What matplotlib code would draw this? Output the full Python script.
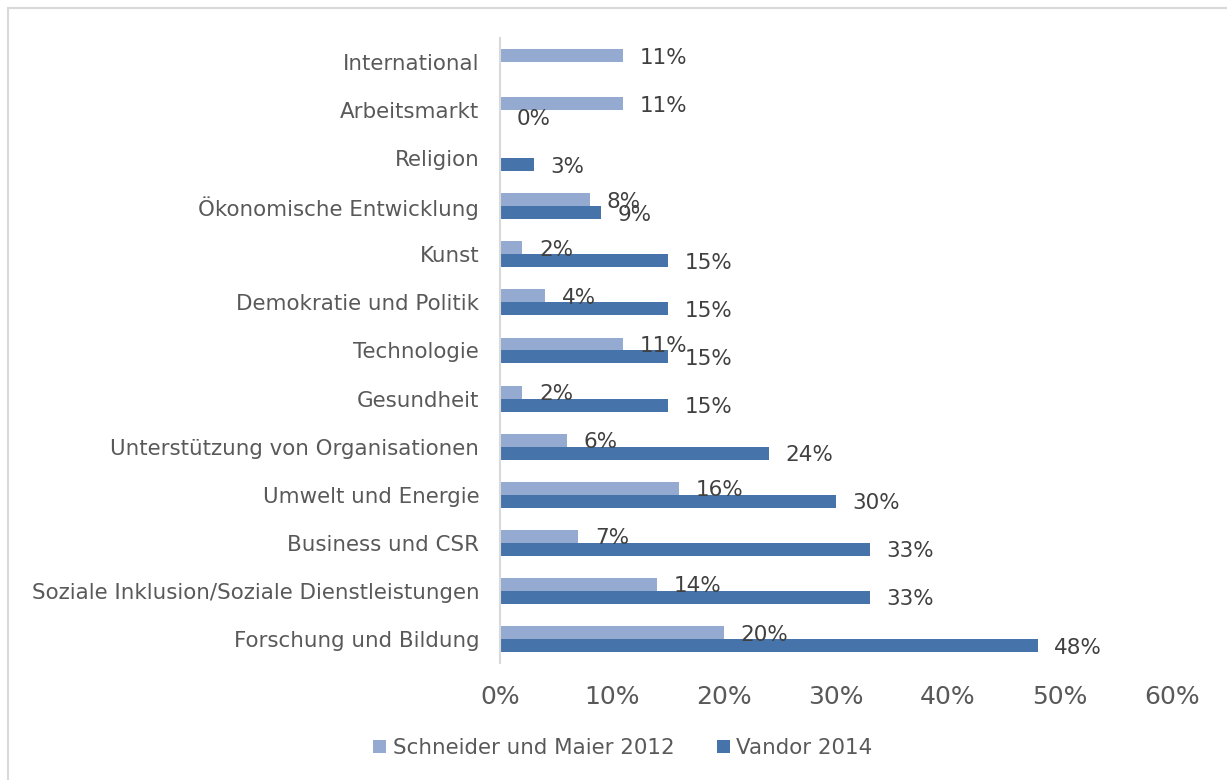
import numpy as np
import matplotlib.pyplot as plt
from matplotlib.patches import Rectangle

# categories from bottom to top
categories = ['Forschung und Bildung',
              'Soziale Inklusion/Soziale Dienstleistungen',
              'Business und CSR',
              'Umwelt und Energie',
              'Unterstützung von Organisationen',
              'Gesundheit',
              'Technologie',
              'Demokratie und Politik',
              'Kunst',
              'Ökonomische Entwicklung',
              'Religion',
              'Arbeitsmarkt',
              'International']
schneider = [20, 14, 7, 16, 6, 2, 11, 4, 2, 8, np.nan, 11, 11]
vandor = [48, 33, 33, 30, 24, 15, 15, 15, 15, 9, 3, 0, np.nan]
series_names = ['Schneider und Maier 2012', 'Vandor 2014']
xticks = [0, 10, 20, 30, 40, 50, 60]

col_light = '#95AAD0'
col_dark = '#4674AA'
txt_gray = '#595959'
lbl_gray = '#404040'

fig = plt.figure(figsize=(12.27, 7.8), dpi=100)
ax = fig.add_axes([500/1227, 1-663/780, 672/1227, 625/780])

y = np.arange(len(categories))
h = 0.27
b1 = ax.barh(y + h/2, schneider, height=h, color=col_light, label=series_names[0])
b2 = ax.barh(y - h/2, vandor, height=h, color=col_dark, label=series_names[1])

for bars, vals in [(b1, schneider), (b2, vandor)]:
    for rect, v in zip(bars, vals):
        if np.isnan(v):
            continue
        ax.annotate(f'{v:.0f}%', (v, rect.get_y() + rect.get_height()/2),
                    xytext=(12, -1.5), textcoords='offset points',
                    ha='left', va='center', fontsize=15.5, color=lbl_gray)

ax.set_xlim(0, 60)
ax.set_ylim(-0.5, len(categories) - 0.5)
ax.set_xticks(xticks)
ax.set_xticklabels([f'{t}%' for t in xticks])
ax.set_yticks(y)
ax.set_yticklabels(categories)
ax.tick_params(axis='x', length=0, pad=16, labelsize=18, labelcolor=txt_gray)
ax.tick_params(axis='y', length=0, pad=15, labelsize=15.4, labelcolor=txt_gray)
for s in ['top', 'right', 'bottom']:
    ax.spines[s].set_visible(False)
ax.spines['left'].set_color('#D9D9D9')
ax.spines['left'].set_linewidth(1.5)

leg = fig.legend(handles=[b1, b2], loc='center', bbox_to_anchor=(623/1227, 1-748/780),
                 ncol=2, frameon=False, fontsize=15.4, handlelength=0.6, handleheight=0.6,
                 handletextpad=0.3, columnspacing=2.0)
for t in leg.get_texts():
    t.set_color(txt_gray)

# outer chart border
fig.patches.append(Rectangle((8/1227, -0.1), 1.2, 1.1 - 8/780,
                             transform=fig.transFigure, fill=False,
                             edgecolor='#D9D9D9', linewidth=1.5, clip_on=False))

fig.savefig('out.png', dpi=100)
